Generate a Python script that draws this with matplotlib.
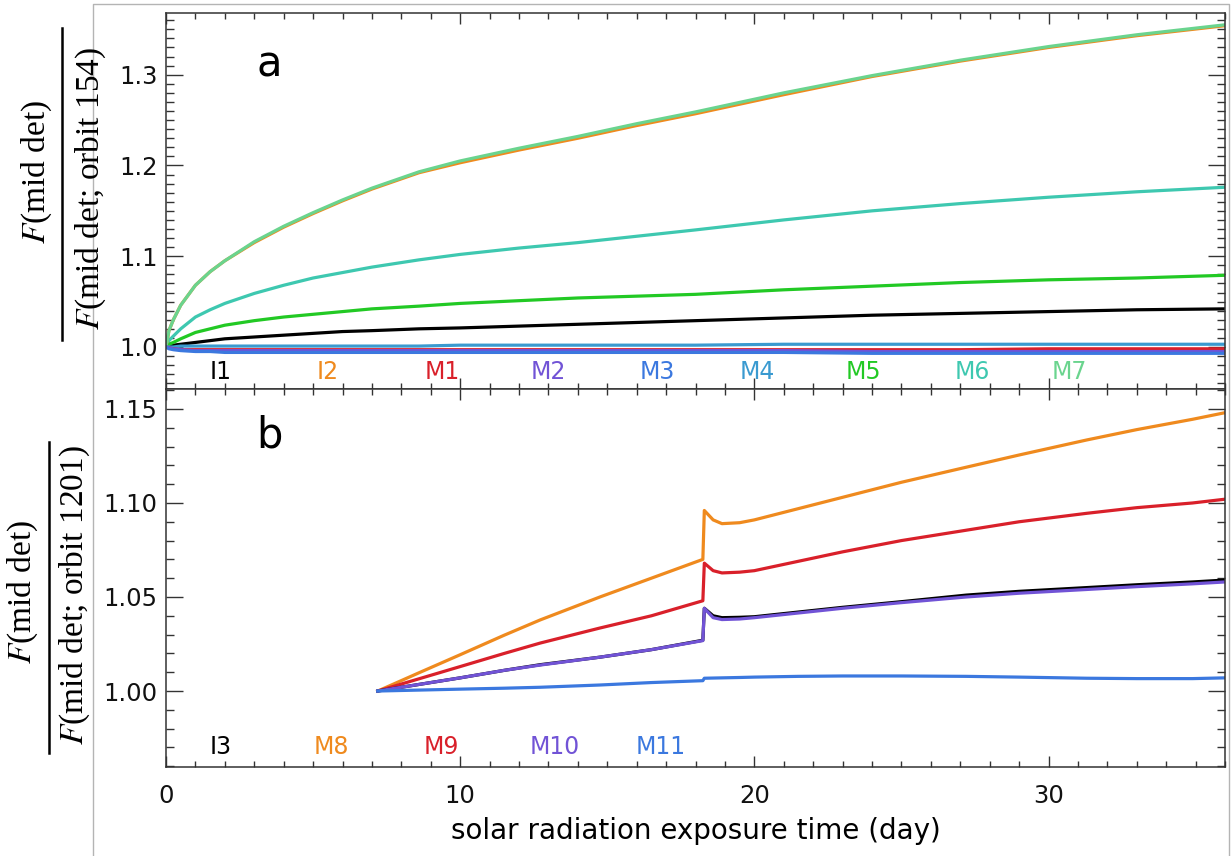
import matplotlib.pyplot as plt
import numpy as np
from matplotlib.lines import Line2D
from matplotlib.ticker import MultipleLocator, FormatStrFormatter

plt.rcParams['font.family'] = ['DejaVu Sans']
plt.rcParams['mathtext.fontset'] = 'stix'

W, H = 1231, 856

# ---- panel a data (normalised to orbit 154) ----
day_a = [0, 0.1, 0.25, 0.5, 1, 1.5, 2, 3, 4, 5, 6, 7, 8.6, 10, 12, 14, 16, 18, 21, 24, 27, 30, 33, 36]
i1 = [1.0, 1.001, 1.002, 1.003, 1.005, 1.007, 1.009, 1.011, 1.013, 1.015, 1.017, 1.018, 1.020, 1.021,
      1.023, 1.025, 1.027, 1.029, 1.032, 1.035, 1.037, 1.039, 1.041, 1.042]
i2 = [1.0, 1.018, 1.030, 1.046, 1.068, 1.083, 1.095, 1.115, 1.132, 1.147, 1.161, 1.174, 1.192, 1.203,
      1.217, 1.230, 1.244, 1.257, 1.278, 1.298, 1.315, 1.330, 1.343, 1.354]
m1 = [1.0, 0.999, 0.998, 0.997, 0.997, 0.997, 0.997, 0.997, 0.997, 0.997, 0.997, 0.997, 0.997, 0.997,
      0.997, 0.997, 0.997, 0.997, 0.997, 0.997, 0.997, 0.998, 0.998, 0.998]
m2 = [1.0, 0.999, 0.998, 0.997, 0.996, 0.996, 0.996, 0.996, 0.996, 0.996, 0.996, 0.996, 0.996, 0.996,
      0.996, 0.996, 0.996, 0.996, 0.996, 0.995, 0.995, 0.995, 0.995, 0.995]
m3 = [1.0, 0.998, 0.997, 0.996, 0.995, 0.995, 0.994, 0.994, 0.994, 0.994, 0.994, 0.994, 0.994, 0.994,
      0.994, 0.994, 0.994, 0.994, 0.994, 0.993, 0.993, 0.993, 0.993, 0.993]
m4 = [1.0, 1.000, 1.000, 1.001, 1.001, 1.001, 1.001, 1.001, 1.001, 1.001, 1.001, 1.001, 1.001, 1.002,
      1.002, 1.002, 1.002, 1.002, 1.003, 1.003, 1.003, 1.003, 1.003, 1.003]
m5 = [1.0, 1.003, 1.005, 1.009, 1.016, 1.020, 1.024, 1.029, 1.033, 1.036, 1.039, 1.042, 1.045, 1.048,
      1.051, 1.054, 1.056, 1.058, 1.063, 1.067, 1.071, 1.074, 1.076, 1.079]
m6 = [1.0, 1.007, 1.012, 1.020, 1.033, 1.041, 1.048, 1.059, 1.068, 1.076, 1.082, 1.088, 1.096, 1.102,
      1.109, 1.115, 1.122, 1.129, 1.140, 1.150, 1.158, 1.165, 1.171, 1.176]
m7 = [1.0, 1.018, 1.030, 1.046, 1.068, 1.083, 1.095, 1.116, 1.133, 1.148, 1.162, 1.175, 1.193, 1.205,
      1.219, 1.232, 1.246, 1.259, 1.280, 1.299, 1.316, 1.331, 1.344, 1.355]

# ---- panel b data (normalised to orbit 1201) ----
day_b = [7.2, 8.6, 10, 11.5, 12.72, 14.75, 16.5, 18.25, 18.3, 18.6, 18.9, 19.5, 20, 21.5, 23.0, 25,
         27.2, 29, 31.3, 33, 34.9, 36]
i3 = [1.0, 1.0035, 1.007, 1.011, 1.014, 1.018, 1.022, 1.027, 1.044, 1.040, 1.039, 1.0392, 1.0395, 1.042,
      1.0445, 1.0475, 1.051, 1.053, 1.055, 1.0565, 1.058, 1.059]
m8 = [1.0, 1.0097, 1.0193, 1.0297, 1.0378, 1.050, 1.060, 1.070, 1.096, 1.091, 1.089, 1.0895, 1.091, 1.097,
      1.103, 1.111, 1.119, 1.1255, 1.1335, 1.139, 1.1445, 1.148]
m9 = [1.0, 1.0065, 1.013, 1.020, 1.0255, 1.0335, 1.040, 1.048, 1.068, 1.064, 1.0628, 1.0632, 1.064, 1.069,
      1.074, 1.080, 1.0855, 1.090, 1.0945, 1.0975, 1.100, 1.102]
m10 = [1.0, 1.0035, 1.007, 1.011, 1.0138, 1.018, 1.022, 1.0268, 1.044, 1.039, 1.038, 1.0383, 1.039, 1.0415,
       1.044, 1.047, 1.050, 1.052, 1.054, 1.0555, 1.057, 1.058]
m11 = [1.0, 1.0005, 1.001, 1.0015, 1.002, 1.0032, 1.0045, 1.0055, 1.0068, 1.0069, 1.007, 1.0072, 1.0074,
       1.0078, 1.008, 1.008, 1.0078, 1.0074, 1.0068, 1.0066, 1.0066, 1.007]

labels_a = ['I1', 'I2', 'M1', 'M2', 'M3', 'M4', 'M5', 'M6', 'M7']
label_x_a = [1.87, 5.48, 9.39, 13.0, 16.7, 20.1, 23.7, 27.4, 30.7]
labels_b = ['I3', 'M8', 'M9', 'M10', 'M11']
label_x_b = [1.87, 5.62, 9.36, 13.2, 16.8]

col = {'I1': 'black', 'I2': '#ef8a1e', 'M1': '#d9202a', 'M2': '#7153d6',
       'M3': '#3b78df', 'M4': '#3a9ad0', 'M5': '#22c924', 'M6': '#3ec8b0',
       'M7': '#6ad48e', 'I3': 'black', 'M8': '#ef8a1e', 'M9': '#d9202a',
       'M10': '#7153d6', 'M11': '#3b78df'}

fig = plt.figure(figsize=(W / 100, H / 100), dpi=100)


def px(x, y):
    return x / W, 1 - y / H


l, r = 166, 1225
axa = fig.add_axes([l / W, 1 - 389 / H, (r - l) / W, (389 - 13) / H])
axb = fig.add_axes([l / W, 1 - 767 / H, (r - l) / W, (767 - 389) / H])

lw = 2.3
series_a = {'I1': i1, 'M6': m6, 'M5': m5, 'I2': i2, 'M7': m7,
            'M4': m4, 'M1': m1, 'M2': m2, 'M3': m3}
for k, v in series_a.items():
    axa.plot(day_a, v, color=col[k], lw=lw)

series_b = {'M8': m8, 'M9': m9, 'I3': i3, 'M10': m10, 'M11': m11}
for k, v in series_b.items():
    axb.plot(day_b, v, color=col[k], lw=lw)

for lab, xx in zip(labels_a, label_x_a):
    axa.text(xx, 0.9724, lab, color=col[lab], fontsize=17, ha='center', va='center')
for lab, xx in zip(labels_b, label_x_b):
    axb.text(xx, 0.970, lab, color=col[lab], fontsize=17, ha='center', va='center')

axa.text(3.5, 1.311, 'a', fontsize=30, ha='center', va='center')
axb.text(3.5, 1.136, 'b', fontsize=30, ha='center', va='center')

axa.set_ylim(0.9537, 1.368)
axb.set_ylim(0.9596, 1.1606)
axa.yaxis.set_major_locator(MultipleLocator(0.1))
axa.yaxis.set_minor_locator(MultipleLocator(0.01))
axa.yaxis.set_major_formatter(FormatStrFormatter('%.1f'))
axb.yaxis.set_major_locator(MultipleLocator(0.05))
axb.yaxis.set_minor_locator(MultipleLocator(0.01))
axb.yaxis.set_major_formatter(FormatStrFormatter('%.2f'))

for ax in (axa, axb):
    ax.set_xlim(0, 36)
    ax.xaxis.set_major_locator(MultipleLocator(10))
    ax.xaxis.set_minor_locator(MultipleLocator(1))
    for s in ax.spines.values():
        s.set_color('#333333')
        s.set_linewidth(1.1)
    ax.tick_params(axis='both', which='both', direction='in', top=True, right=True,
                   color='#333333', labelsize=17.5, labelcolor='#111111')
    ax.tick_params(axis='y', which='major', length=12, width=1.0, pad=6)
    ax.tick_params(axis='y', which='minor', length=6, width=1.0)
    ax.tick_params(axis='x', which='major', length=8, width=1.0, pad=12)
    ax.tick_params(axis='x', which='minor', length=4, width=1.0)

axa.tick_params(axis='x', labelbottom=False)
axb.set_xlabel('solar radiation exposure time (day)', fontsize=20, labelpad=7)

# fraction style y labels
serif = ['Liberation Serif', 'DejaVu Serif']
fs = 24
fig.text(*px(37, 172), r'$F$(mid det)', rotation=90, ha='center', va='center', fontsize=fs, family=serif)
fig.text(*px(91, 188), r'$F$(mid det; orbit 154)', rotation=90, ha='center', va='center', fontsize=fs, family=serif)
fig.add_artist(Line2D([62 / W, 62 / W], [1 - 28 / H, 1 - 340 / H], color='black', lw=1.8))

fig.text(*px(23, 592), r'$F$(mid det)', rotation=90, ha='center', va='center', fontsize=fs, family=serif)
fig.text(*px(75, 595), r'$F$(mid det; orbit 1201)', rotation=90, ha='center', va='center', fontsize=fs, family=serif)
fig.add_artist(Line2D([49 / W, 49 / W], [1 - 442 / H, 1 - 753 / H], color='black', lw=1.8))

# thin grey frame around the figure region
fig.add_artist(Line2D([93 / W, 93 / W, 1229 / W, 1229 / W], [0, 1 - 4 / H, 1 - 4 / H, 0],
                      color='#b4b4b4', lw=1.0))

fig.savefig('out.png', dpi=100)
